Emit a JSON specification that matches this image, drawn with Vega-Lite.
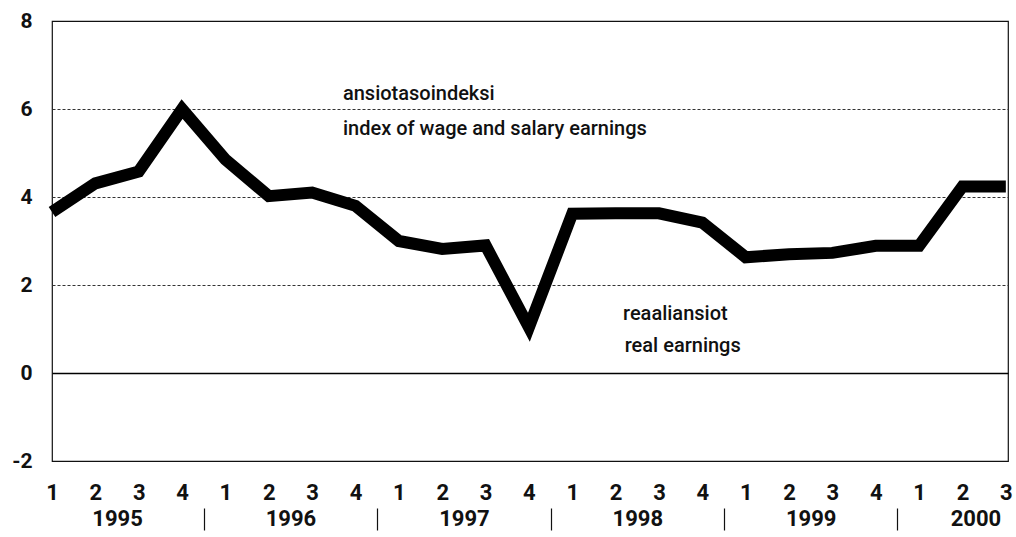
{
  "$schema": "https://vega.github.io/schema/vega-lite/v6.json",
  "width": 956,
  "height": 440,
  "autosize": {"type": "none"},
  "padding": {"left": 52, "top": 21, "right": 8, "bottom": 76},
  "background": "white",
  "config": {
    "view": {"stroke": "#111", "strokeWidth": 1.2},
    "axis": {"labelFont": "Roboto", "labelFontWeight": "bold", "labelColor": "#111"}
  },
  "datasets": {
    "series": [
      {"i": 0, "v": 3.66}, {"i": 1, "v": 4.31}, {"i": 2, "v": 4.58}, {"i": 3, "v": 6.0},
      {"i": 4, "v": 4.85}, {"i": 5, "v": 4.02}, {"i": 6, "v": 4.1}, {"i": 7, "v": 3.8},
      {"i": 8, "v": 3.0}, {"i": 9, "v": 2.82}, {"i": 10, "v": 2.9}, {"i": 11, "v": 1.04},
      {"i": 12, "v": 3.62}, {"i": 13, "v": 3.63}, {"i": 14, "v": 3.63}, {"i": 15, "v": 3.42},
      {"i": 16, "v": 2.63}, {"i": 17, "v": 2.7}, {"i": 18, "v": 2.73}, {"i": 19, "v": 2.89},
      {"i": 20, "v": 2.89}, {"i": 21, "v": 4.24}, {"i": 22, "v": 4.24}
    ],
    "notesTop": [
      {"i": 6.71, "v": 6.2, "t": "ansiotasoindeksi"},
      {"i": 6.71, "v": 5.4, "t": "index of wage and salary earnings"}
    ],
    "notesBottom": [
      {"i": 13.17, "v": 1.2, "t": "reaaliansiot"},
      {"i": 13.21, "v": 0.47, "t": "real earnings"}
    ]
  },
  "resolve": {"axis": {"x": "independent"}},
  "layer": [
    {
      "data": {"name": "series"},
      "mark": {"type": "line", "color": "black", "strokeWidth": 12, "strokeJoin": "miter", "strokeMiterLimit": 10, "strokeCap": "butt"},
      "encoding": {
        "x": {
          "field": "i", "type": "quantitative",
          "scale": {"domain": [0, 22.05], "nice": false, "zero": false},
          "axis": {
            "orient": "bottom",
            "title": null, "values": [0,1,2,3,4,5,6,7,8,9,10,11,12,13,14,15,16,17,18,19,20,21,22],
            "labelExpr": "(datum.value % 4) + 1", "ticks": false, "domain": false, "grid": false,
            "labelFontSize": 22, "labelPadding": 21, "labelFlush": false, "labelBaseline": "top"
          }
        },
        "y": {
          "field": "v", "type": "quantitative",
          "scale": {"domain": [-2, 8], "nice": false},
          "axis": {
            "title": null, "values": [-2, 0, 2, 4, 6, 8], "ticks": false, "domain": false,
            "labelExpr": "'' + datum.value",
            "labelFontSize": 21, "labelPadding": 20,
            "grid": true,
            "gridColor": {"condition": {"test": "datum.value === 0", "value": "#000"}, "value": "#333"},
            "gridDash": {"condition": {"test": "datum.value === 0", "value": []}, "value": [3, 2]},
            "gridWidth": {"condition": {"test": "datum.value === 0", "value": 1.6}, "value": 1},
            "gridOpacity": {"condition": {"test": "datum.value === 0 || datum.value === 2 || datum.value === 4 || datum.value === 6", "value": 1}, "value": 0}
          }
        }
      }
    },
    {
      "data": {"name": "notesTop"},
      "mark": {"type": "text", "align": "left", "baseline": "alphabetic", "font": "Roboto", "fontSize": 20, "fontWeight": 500, "color": "#111"},
      "encoding": {
        "x": {
          "field": "i", "type": "quantitative",
          "axis": {
            "orient": "bottom",
            "title": null, "values": [3.5, 7.5, 11.5, 15.5, 19.5], "labels": false, "domain": false, "grid": false,
            "ticks": true, "tickSize": 22, "tickColor": "#111", "tickWidth": 1.2, "offset": 47
          }
        },
        "y": {"field": "v", "type": "quantitative"},
        "text": {"field": "t"}
      }
    },
    {
      "data": {"name": "notesBottom"},
      "mark": {"type": "text", "align": "left", "baseline": "alphabetic", "font": "Roboto", "fontSize": 20, "fontWeight": 500, "color": "#111"},
      "encoding": {
        "x": {
          "field": "i", "type": "quantitative",
          "axis": {
            "orient": "bottom",
            "title": null, "values": [1.5, 5.5, 9.5, 13.5, 17.5, 21.3], "labelExpr": "'' + (1995 + floor(datum.value / 4))",
            "ticks": false, "domain": false, "grid": false,
            "labelFontSize": 22, "labelPadding": 47, "labelBaseline": "top", "labelFlush": false
          }
        },
        "y": {"field": "v", "type": "quantitative"},
        "text": {"field": "t"}
      }
    }
  ]
}
